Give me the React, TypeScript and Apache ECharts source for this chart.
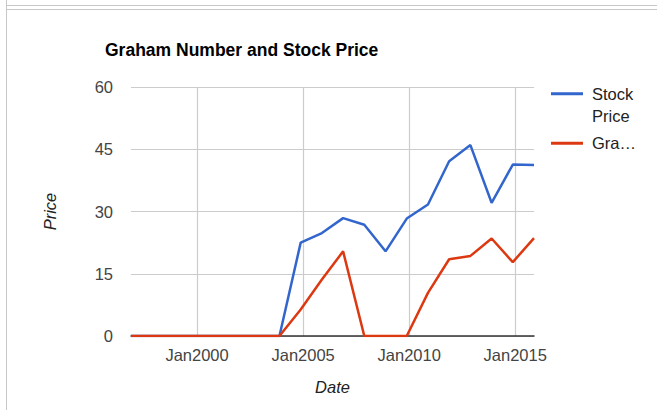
import React, { useEffect, useRef } from "react";
import * as echarts from "echarts";

const dates: string[] = [
  "1996-11-20", "1997-11-20", "1998-11-20", "1999-11-20", "2000-11-20",
  "2001-11-20", "2002-11-20", "2003-11-20", "2004-11-20", "2005-11-20",
  "2006-11-20", "2007-11-20", "2008-11-20", "2009-11-20", "2010-11-20",
  "2011-11-20", "2012-11-20", "2013-11-20", "2014-11-20", "2015-11-20",
];
const stockPrice: number[] = [
  0, 0, 0, 0, 0, 0, 0, 0, 22.5, 24.8, 28.4, 26.8, 20.4, 28.3, 31.7, 42.1, 46.0, 32.1, 41.3, 41.2,
];
const grahamNumber: number[] = [
  0, 0, 0, 0, 0, 0, 0, 0, 6.4, 13.6, 20.4, 0, 0, 0, 10.4, 18.5, 19.3, 23.5, 17.8, 23.6,
];
const xTickYears: number[] = [2000, 2005, 2010, 2015];
const yTicks: number[] = [0, 15, 30, 45, 60];

const FONT = "'Liberation Sans', Arial, sans-serif";

function ts(d: string): number {
  const [y, m, day] = d.split("-").map(Number);
  return Date.UTC(y, m - 1, day);
}

export default function App() {
  const ref = useRef<HTMLDivElement>(null);
  useEffect(() => {
    if (!ref.current) return;
    const chart = echarts.init(ref.current, undefined, { renderer: "svg" });
    const xs = dates.map(ts);
    const tickVals = xTickYears.map((y) => Date.UTC(y, 0, 1));
    chart.setOption({
      animation: false,
      backgroundColor: "#ffffff",
      textStyle: { fontFamily: FONT },
      title: {
        text: "Graham Number and Stock Price",
        left: 105,
        top: 41,
        padding: 0,
        textStyle: { fontFamily: FONT, fontSize: 17.5, fontWeight: "bold", color: "#000" },
      },
      legend: [
        {
          data: ["Stock Price"],
          orient: "vertical",
          left: 551,
          top: 60,
          padding: 0,
          icon: "rect",
          itemWidth: 32,
          itemHeight: 3,
          selectedMode: false,
          formatter: () => "\nStock\nPrice",
          textStyle: {
            fontFamily: FONT,
            fontSize: 16.5,
            color: "#222",
            lineHeight: 22.5,
            padding: [0, 0, 0, 4],
          },
        },
        {
          data: ["Graham Number"],
          orient: "vertical",
          left: 551,
          top: 132,
          padding: 0,
          icon: "rect",
          itemWidth: 32,
          itemHeight: 3,
          selectedMode: false,
          formatter: () => "Gra…",
          textStyle: {
            fontFamily: FONT,
            fontSize: 16.5,
            color: "#222",
            lineHeight: 22.5,
            padding: [0, 0, 0, 4],
          },
        },
      ],
      grid: { left: 131, right: 123, top: 87, bottom: 74, containLabel: false },
      xAxis: {
        type: "value",
        min: xs[0],
        max: xs[xs.length - 1],
        name: "Date",
        nameLocation: "middle",
        nameGap: 42,
        nameTextStyle: { fontFamily: FONT, fontSize: 16.5, fontStyle: "italic", color: "#222" },
        axisLine: { show: true, onZero: false, lineStyle: { color: "#333", width: 1.5 } },
        axisTick: { show: false, customValues: tickVals },
        axisLabel: {
          customValues: tickVals,
          margin: 10,
          fontFamily: FONT,
          fontSize: 16.5,
          color: "#444",
          formatter: (v: number) => "Jan" + new Date(v).getUTCFullYear(),
        },
        splitLine: { show: true, lineStyle: { color: "#cccccc", width: 1.2 } },
      },
      yAxis: {
        type: "value",
        min: yTicks[0],
        max: yTicks[yTicks.length - 1],
        interval: 15,
        name: "Price",
        nameLocation: "middle",
        nameGap: 73,
        nameRotate: 90,
        nameTextStyle: { fontFamily: FONT, fontSize: 16.5, fontStyle: "italic", color: "#222" },
        axisLine: { show: false },
        axisTick: { show: false },
        axisLabel: { margin: 18, fontFamily: FONT, fontSize: 16.5, color: "#444" },
        splitLine: { show: true, lineStyle: { color: "#cccccc", width: 1.2 } },
      },
      series: [
        {
          name: "Stock Price",
          type: "line",
          data: xs.map((x, i) => [x, stockPrice[i]]),
          symbol: "none",
          color: "#3366cc",
          lineStyle: { width: 2.5, color: "#3366cc" },
        },
        {
          name: "Graham Number",
          type: "line",
          data: xs.map((x, i) => [x, grahamNumber[i]]),
          symbol: "none",
          color: "#dc3912",
          lineStyle: { width: 2.5, color: "#dc3912" },
        },
      ],
      graphic: [
        { type: "line", shape: { x1: 6.5, y1: 0, x2: 6.5, y2: 410 }, style: { stroke: "#c8c8c8", lineWidth: 1 } },
        { type: "line", shape: { x1: 6.5, y1: 5.5, x2: 657, y2: 5.5 }, style: { stroke: "#c8c8c8", lineWidth: 1 } },
        { type: "line", shape: { x1: 6.5, y1: 9.5, x2: 657, y2: 9.5 }, style: { stroke: "#c8c8c8", lineWidth: 1 } },
      ],
    });
    return () => chart.dispose();
  }, []);
  return (
    <div
      ref={ref}
      style={{ position: "absolute", left: 0, top: 0, width: 657, height: 410 }}
    />
  );
}
